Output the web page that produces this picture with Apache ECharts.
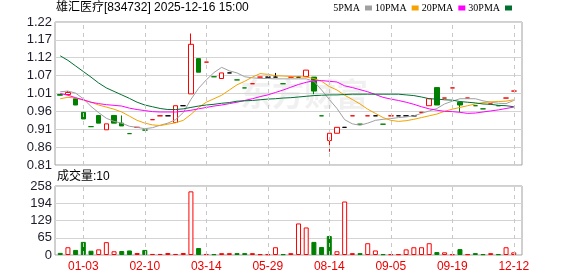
<!DOCTYPE html>
<html><head><meta charset="utf-8">
<script src="https://cdn.jsdelivr.net/npm/echarts@6/dist/echarts.min.js"></script>
<style>html,body{margin:0;padding:0;background:#fff}#c{width:578px;height:276px}</style>
</head><body><div id="c"></div>
<script>
const stockTitle = '雄汇医疗[834732] 2025-12-16 15:00';
const xTickLabels = ['01-03','02-10','03-14','05-29','08-14','09-05','09-19','12-12'];
const xTickIndex = [3,11,19,27,35,43,51,59];
const priceTicks = ['0.81','0.86','0.91','0.96','1.01','1.07','1.12','1.17','1.22'];
const volTicks = ['0','65','129','194','258'];

const opens = [1.012,1.012,1.000,0.961,0.920,0.952,0.911,0.952,0.930,0.900, 0.918,0.910,0.940,0.951,0.951,0.932,0.980,1.014,1.115,1.105, 1.063,1.058,1.074,1.054,1.031,1.043,1.062,1.062,1.062,1.043, 1.062,1.062,1.064,1.062,0.951,0.880,0.901,0.918,0.951,0.927, 0.951,0.951,0.927,0.951,0.951,0.951,0.951,0.961,0.980,1.032, 1.002,1.031,0.990,1.002,0.980,0.971,0.985,0.980,1.002,1.022];
const closes = [1.010,1.018,0.982,0.942,0.920,0.930,0.928,0.930,0.922,0.900, 0.918,0.910,0.940,0.951,0.951,0.980,0.980,1.156,1.076,1.105, 1.063,1.074,1.074,1.054,1.031,1.043,1.062,1.062,1.062,1.043, 1.062,1.062,1.082,1.022,0.951,0.901,0.918,0.918,0.951,0.927, 0.951,0.951,0.927,0.951,0.951,0.951,0.951,0.961,1.000,0.982, 1.002,1.031,0.982,1.002,0.980,0.971,0.985,0.980,1.002,1.022];
const lows = [1.010,1.012,0.982,0.942,0.920,0.930,0.911,0.930,0.922,0.900, 0.918,0.910,0.940,0.951,0.951,0.932,0.980,1.014,1.076,1.105, 1.063,1.058,1.074,1.054,1.031,1.043,1.062,1.062,1.062,1.043, 1.062,1.062,1.064,1.013,0.951,0.848,0.901,0.918,0.951,0.927, 0.951,0.951,0.927,0.951,0.951,0.951,0.951,0.961,0.980,0.982, 1.002,1.031,0.962,1.002,0.980,0.971,0.985,0.980,1.002,1.022];
const highs = [1.012,1.022,1.000,0.961,0.920,0.952,0.928,0.952,0.952,0.900, 0.918,0.910,0.940,0.951,0.951,0.980,0.980,1.187,1.115,1.105, 1.063,1.074,1.074,1.054,1.031,1.043,1.062,1.062,1.074,1.043, 1.062,1.062,1.082,1.062,0.951,0.901,0.918,0.918,0.951,0.927, 0.951,0.951,0.927,0.951,0.951,0.951,0.951,0.961,1.000,1.032, 1.002,1.031,0.990,1.002,0.980,0.971,0.985,0.980,1.002,1.022];

const volumes = [8,29,19,49,16,21,48,14,15,17, 7.5,19,4,4,7.5,4,7.5,238,26,4, 3,7,7,7,7,7,3,3,29,3, 7,118,103,49,30,71,14,200,7,7, 44,17,3,3,3,21,29,29,44,11, 10,3,22,3,7,3,7,3,29,10];
const volDir = [-1,1,-1,-1,-1,1,1,1,-1,-1, 1,-1,1,1,1,1,1,1,-1,1, -1,1,1,-1,-1,1,1,1,1,-1, 1,1,1,-1,-1,-1,1,1,1,-1, 1,1,-1,1,1,1,1,1,1,-1, 1,1,-1,1,-1,-1,1,-1,1,1];

const ma5 = [1.020,1.022,1.016,1.000,0.978,0.960,0.944,0.935,0.930,0.921,0.918,0.914, 0.917,0.924,0.930,0.940,0.960,0.998,1.030,1.054,1.075,1.090,1.080,1.074, 1.063,1.060,1.058,1.058,1.057,1.057,1.057,1.057,1.057,1.050,1.025,0.998,0.972, 0.940,0.928,0.924,0.930,0.938,0.941,0.943,0.946,0.948,0.951,0.958,0.965, 0.972,0.985,0.993,1.000,1.000,1.000,0.994,0.990,0.987,0.986,0.995];
const ma10 = [1.000,1.004,1.002,0.996,0.990,0.982,0.976,0.970,0.962,0.950,0.938,0.930, 0.925,0.923,0.927,0.931,0.938,0.955,0.975,0.990,1.000,1.010,1.025,1.040, 1.050,1.062,1.072,1.070,1.066,1.065,1.064,1.063,1.062,1.058,1.050,1.035,1.025, 1.010,0.998,0.985,0.970,0.958,0.946,0.938,0.935,0.937,0.941,0.946,0.951, 0.956,0.964,0.970,0.975,0.980,0.985,0.989,0.991,0.992,0.993,0.997];
const ma20 = [1.015,1.010,1.003,0.997,0.990,0.986,0.983,0.981,0.979,0.973,0.969,0.966, 0.963,0.962,0.962,0.962,0.964,0.967,0.971,0.975,0.979,0.982,0.986,0.990, 0.995,1.000,1.006,1.011,1.018,1.025,1.033,1.041,1.047,1.052,1.052,1.050,1.048, 1.037,1.032,1.026,1.020,1.012,1.004,0.999,0.995,0.990,0.984,0.977,0.971, 0.967,0.964,0.963,0.961,0.958,0.959,0.962,0.965,0.968,0.972,0.976];
const ma30 = [1.123,1.110,1.094,1.078,1.062,1.045,1.031,1.021,1.011,1.001,0.990,0.982, 0.977,0.972,0.969,0.969,0.971,0.975,0.979,0.982,0.984,0.987,0.989,0.993, 0.994,0.995,0.997,0.999,1.000,1.002,1.003,1.005,1.007,1.009,1.010,1.011,1.011, 1.012,1.013,1.013,1.013,1.013,1.013,1.013,1.013,1.011,1.009,1.005,1.000, 0.999,0.997,0.996,0.992,0.990,0.988,0.985,0.984,0.981,0.980,0.977];

const RED = '#ff0000', GREEN = '#008000', BLACK = '#000000';
const categories = closes.map((_, i) => {
  const k = xTickIndex.indexOf(i);
  return k >= 0 ? xTickLabels[k] : 'd' + i;
});

const candleData = closes.map((c, i) => {
  const o = opens[i];
  const item = { value: [o, c, lows[i], highs[i]] };
  if (o === c) {
    const prev = i > 0 ? closes[i - 1] : c;
    const col = c > prev ? RED : (c < prev ? GREEN : BLACK);
    item.itemStyle = { color: col, color0: col, borderColor: col, borderColor0: col };
  }
  return item;
});
const volData = volumes.map((v, i) => ({
  value: v,
  itemStyle: volDir[i] > 0 ? { color: '#ffffff', borderColor: RED, borderWidth: 1 } : { color: GREEN, borderColor: GREEN, borderWidth: 1 }
}));

const pMin = parseFloat(priceTicks[0]), pMax = parseFloat(priceTicks[priceTicks.length - 1]);
const pInt = (pMax - pMin) / (priceTicks.length - 1);
const vMax = parseFloat(volTicks[volTicks.length - 1]);
const vInt = vMax / (volTicks.length - 1);

const vlines = {
  silent: true, symbol: 'none', animation: false,
  label: { show: false },
  lineStyle: { type: [4, 4], color: '#c8c8c8', width: 1 },
  data: xTickLabels.map(l => ({ xAxis: l }))
};
const axisFont = 'Liberation Sans, Arial, sans-serif';

const chart = echarts.init(document.getElementById('c'), null, { renderer: 'canvas' });
chart.setOption({
  animation: false,
  backgroundColor: '#ffffff',
  title: [
    { text: stockTitle, left: 56, top: 2, padding: 0,
      textStyle: { fontSize: 12, fontWeight: 'normal', color: '#000', fontFamily: 'Liberation Sans, "Noto Sans CJK SC", sans-serif' } },
    { text: '成交量:' + volumes[volumes.length - 1], left: 57, top: 171, padding: 0,
      textStyle: { fontSize: 12, fontWeight: 'normal', color: '#000', fontFamily: 'Liberation Sans, "Noto Sans CJK SC", sans-serif' } }
  ],
  legend: {
    right: 66, top: 3, padding: 0, itemGap: 3, itemWidth: 7, itemHeight: 5, icon: 'rect', align: 'right',
    textStyle: { fontSize: 10, color: '#000', fontFamily: 'Liberation Serif, serif' },
    data: ['5PMA', '10PMA', '20PMA', '30PMA']
  },
  graphic: [{
    type: 'text', left: 240, top: 78, silent: true, z: 0,
    style: { text: '东方财富', font: 'bold 32px "Noto Sans CJK SC"', fill: 'rgba(0,0,0,0.06)' }
  }],
  grid: [
    { left: 55, top: 22, width: 467, height: 143, show: true, borderColor: '#a0a0a0', borderWidth: 1, backgroundColor: 'transparent' },
    { left: 56.4, top: 22, width: 461.2, height: 143 },
    { left: 55, top: 186, width: 467, height: 69, show: true, borderColor: '#a0a0a0', borderWidth: 1, backgroundColor: 'transparent' },
    { left: 56.4, top: 186, width: 461.2, height: 69 }
  ],
  xAxis: [
    { gridIndex: 0, type: 'value', min: 0, max: 1, show: false },
    { gridIndex: 1, type: 'category', data: categories, boundaryGap: true,
      axisLine: { show: false }, axisTick: { show: false }, axisLabel: { show: false }, splitLine: { show: false } },
    { gridIndex: 2, type: 'value', min: 0, max: 1, show: false },
    { gridIndex: 3, type: 'category', data: categories, boundaryGap: true,
      axisLine: { show: false }, axisTick: { show: false }, splitLine: { show: false },
      axisLabel: { show: true, interval: (i, v) => xTickLabels.includes(v), color: '#ee0000', fontSize: 12, margin: 6, fontFamily: axisFont } }
  ],
  yAxis: [
    { gridIndex: 0, type: 'value', min: pMin, max: pMax, interval: pInt,
      axisLine: { show: false }, axisTick: { show: false },
      axisLabel: { formatter: v => priceTicks[Math.round((v - pMin) / pInt)], margin: 3, fontSize: 13, color: '#1c1c2c', fontFamily: axisFont },
      splitLine: { show: true, lineStyle: { color: '#d4d4d4', width: 1 } } },
    { gridIndex: 1, type: 'value', min: pMin, max: pMax, show: false, splitLine: { show: false } },
    { gridIndex: 2, type: 'value', min: 0, max: vMax, interval: vInt,
      axisLine: { show: false }, axisTick: { show: false },
      axisLabel: { formatter: v => volTicks[Math.round(v / vInt)], margin: 3, fontSize: 13, color: '#1c1c2c', fontFamily: axisFont },
      splitLine: { show: true, lineStyle: { color: '#d4d4d4', width: 1 } } },
    { gridIndex: 3, type: 'value', min: 0, max: vMax, show: false, splitLine: { show: false } }
  ],
  series: [
    { type: 'candlestick', name: 'K', xAxisIndex: 1, yAxisIndex: 1, barWidth: 5, data: candleData,
      itemStyle: { color: '#ffffff', color0: GREEN, borderColor: RED, borderColor0: GREEN, borderWidth: 1 },
      markLine: vlines },
    { type: 'line', name: '5PMA', xAxisIndex: 1, yAxisIndex: 1, data: ma5, showSymbol: false, symbol: 'none',
      color: '#a0a0a0', lineStyle: { width: 1, color: '#a0a0a0' }, z: 3 },
    { type: 'line', name: '10PMA', xAxisIndex: 1, yAxisIndex: 1, data: ma10, showSymbol: false, symbol: 'none',
      color: '#f4a300', lineStyle: { width: 1, color: '#f4a300' }, z: 3 },
    { type: 'line', name: '20PMA', xAxisIndex: 1, yAxisIndex: 1, data: ma20, showSymbol: false, symbol: 'none',
      color: '#ff00ff', lineStyle: { width: 1, color: '#ff00ff' }, z: 3 },
    { type: 'line', name: '30PMA', xAxisIndex: 1, yAxisIndex: 1, data: ma30, showSymbol: false, symbol: 'none',
      color: '#007030', lineStyle: { width: 1, color: '#007030' }, z: 3 },
    { type: 'bar', name: 'VOL', xAxisIndex: 3, yAxisIndex: 3, barWidth: 5, data: volData, markLine: vlines }
  ]
});
</script>
</body></html>
